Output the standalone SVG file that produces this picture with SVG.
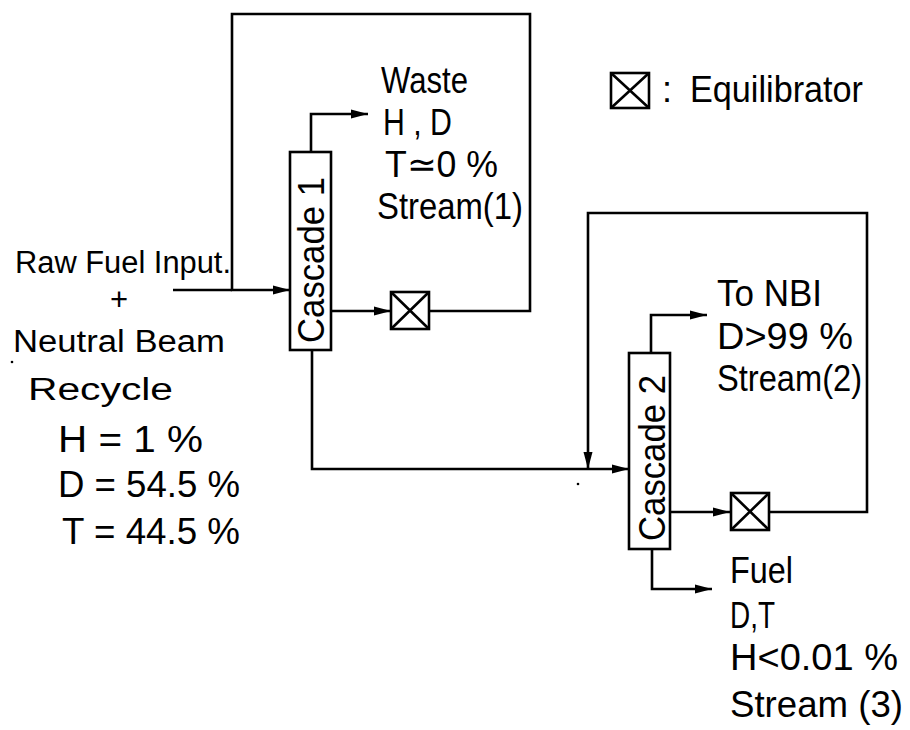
<svg xmlns="http://www.w3.org/2000/svg" width="910" height="730" viewBox="0 0 910 730">
<defs>
<marker id="arr" markerUnits="userSpaceOnUse" markerWidth="18" markerHeight="10" refX="17" refY="5" orient="auto">
<path d="M0,0.5 L17,5 L0,9.5 z" fill="#000"/>
</marker>
<style>
.ln{fill:none;stroke:#000;stroke-width:2.6;stroke-linejoin:miter}
.box{fill:#fff;stroke:#000;stroke-width:2.6}
.t{font-family:"Liberation Sans",Arial,sans-serif;fill:#000}
.big{font-size:36px}
.mid{font-size:31px}
.cas{font-size:37px}
</style>
</defs>
<rect width="910" height="730" fill="#fff"/>
<g id="connectors">
<polyline class="ln" points="173,290 232,290"/>
<polyline class="ln" points="429,311 530,311 530,14 232,14 232,290 290,290" marker-end="url(#arr)"/>
<polyline class="ln" points="311,152 311,114 368,114" marker-end="url(#arr)"/>
<polyline class="ln" points="331,311 391,311" marker-end="url(#arr)"/>
<polyline class="ln" points="312,350 312,469 629,469" marker-end="url(#arr)"/>
<polyline class="ln" points="769,512 867,512 867,213 588,213 588,469" marker-end="url(#arr)"/>
<polyline class="ln" points="651,353 651,315 707,315" marker-end="url(#arr)"/>
<polyline class="ln" points="670,512 730,512" marker-end="url(#arr)"/>
<polyline class="ln" points="652,549 652,589 712,589" marker-end="url(#arr)"/>
</g>
<g id="cascade1">
<rect class="box" x="290" y="152" width="41" height="198"/>
<text class="t cas" transform="translate(324,343) rotate(-90)" textLength="166" lengthAdjust="spacingAndGlyphs">Cascade 1</text>
</g>
<g id="cascade2">
<rect class="box" x="629" y="353" width="41" height="196"/>
<text class="t cas" transform="translate(665,541) rotate(-90)" textLength="166" lengthAdjust="spacingAndGlyphs">Cascade 2</text>
</g>
<g id="equilibrator1">
<rect class="box" x="391" y="292" width="38" height="37"/>
<path class="ln" d="M391,292 L429,329 M429,292 L391,329"/>
</g>
<g id="equilibrator2">
<rect class="box" x="731" y="493" width="38" height="37"/>
<path class="ln" d="M731,493 L769,530 M769,493 L731,530"/>
</g>
<g id="legend">
<rect class="box" x="611" y="73" width="38" height="35"/>
<path class="ln" d="M611,73 L649,108 M649,73 L611,108"/>
<text class="t big" x="662" y="102">:</text>
<text class="t big" x="690" y="102" textLength="173" lengthAdjust="spacingAndGlyphs">Equilibrator</text>
</g>
<g id="input">
<text class="t mid" x="15" y="273" textLength="216" lengthAdjust="spacingAndGlyphs">Raw Fuel Input.</text>
<text class="t mid" x="110" y="310">+</text>
<text class="t mid" x="13" y="352" textLength="212" lengthAdjust="spacingAndGlyphs">Neutral Beam</text>
<text class="t mid" x="28" y="400" textLength="145" lengthAdjust="spacingAndGlyphs">Recycle</text>
<text class="t big" x="58" y="452" textLength="145" lengthAdjust="spacingAndGlyphs">H =  1 %</text>
<text class="t big" x="58" y="497" textLength="182" lengthAdjust="spacingAndGlyphs">D = 54.5 %</text>
<text class="t big" x="62" y="544" textLength="178" lengthAdjust="spacingAndGlyphs">T = 44.5 %</text>
</g>
<g id="stream1">
<text class="t big" x="381" y="93" textLength="87" lengthAdjust="spacingAndGlyphs">Waste</text>
<text class="t big" x="383" y="135" textLength="69" lengthAdjust="spacingAndGlyphs">H , D</text>
<text class="t big" x="385" y="177" textLength="113" lengthAdjust="spacingAndGlyphs">T≃0 %</text>
<text class="t big" x="377" y="219" textLength="146" lengthAdjust="spacingAndGlyphs">Stream(1)</text>
</g>
<g id="stream2">
<text class="t big" x="717" y="306" textLength="105" lengthAdjust="spacingAndGlyphs">To NBI</text>
<text class="t big" x="717" y="349" textLength="136" lengthAdjust="spacingAndGlyphs">D&gt;99 %</text>
<text class="t big" x="717" y="391" textLength="145" lengthAdjust="spacingAndGlyphs">Stream(2)</text>
</g>
<g id="stream3">
<text class="t big" x="730" y="583" textLength="63" lengthAdjust="spacingAndGlyphs">Fuel</text>
<text class="t big" x="730" y="628" textLength="45" lengthAdjust="spacingAndGlyphs">D,T</text>
<text class="t big" x="730" y="670" textLength="168" lengthAdjust="spacingAndGlyphs">H&lt;0.01 %</text>
<text class="t big" x="730" y="717" textLength="173" lengthAdjust="spacingAndGlyphs">Stream (3)</text>
</g>
<circle cx="578" cy="484" r="1.3" fill="#000"/>
<circle cx="12" cy="362" r="1.3" fill="#000"/>
</svg>
